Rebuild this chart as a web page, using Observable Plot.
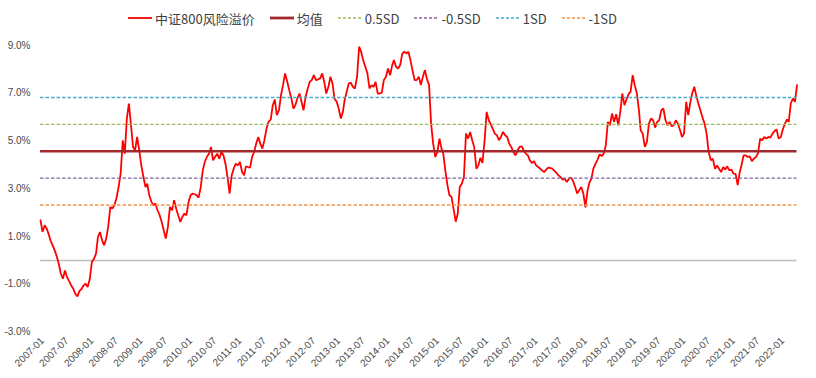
<!DOCTYPE html>
<html><head><meta charset="utf-8">
<script src="https://cdn.jsdelivr.net/npm/d3@7"></script>
<script src="https://cdn.jsdelivr.net/npm/@observablehq/plot@0.6"></script>
<style>
body{margin:0;background:#fff;}
#legend{height:30px;box-sizing:border-box;padding-top:6px;display:flex;align-items:center;padding-left:128px;gap:15px;font-size:13px;color:#404040;font-family:"Noto Sans CJK SC","Noto Sans",sans-serif;line-height:1;}
.item{display:flex;align-items:center;gap:3px;}
.item svg{display:block;}
</style></head><body>
<div id="legend"></div>
<div id="chart"></div>
<script>
// Semi-monthly readings (1st and 16th of each month), in %
const y2007 = [1.68, 1.19, 1.47, 1.33, 1.12, 0.84, 0.63, 0.42, 0.17, -0.14, -0.56, -0.77, -0.42, -0.70, -0.87, -1.05, -1.19, -1.40, -1.51, -1.29, -1.19, -1.05, -0.98, -1.12];
const y2008 = [-0.77, -0.07, 0.07, 0.28, 0.98, 1.19, 0.84, 0.63, 0.91, 1.40, 2.24, 2.17, 2.31, 2.59, 3.07, 3.63, 5.03, 4.47, 5.94, 6.57, 5.66, 4.75, 4.61, 5.17];
const y2009 = [4.61, 3.98, 3.49, 3.07, 3.21, 2.73, 2.45, 2.31, 2.38, 2.10, 1.89, 1.61, 1.26, 0.91, 1.40, 2.24, 2.10, 2.52, 2.17, 1.89, 1.61, 1.82, 1.96, 1.89];
const y2010 = [2.45, 2.73, 2.80, 2.77, 2.73, 2.63, 3.07, 3.77, 4.12, 4.33, 4.47, 4.75, 4.19, 4.33, 4.47, 4.26, 4.54, 4.40, 4.05, 3.49, 2.80, 3.56, 3.84, 4.05];
const y2011 = [3.98, 4.12, 3.70, 3.56, 3.94, 3.91, 3.89, 4.33, 4.54, 4.89, 5.17, 4.89, 4.68, 5.03, 5.52, 5.80, 5.90, 6.50, 6.74, 6.08, 6.29, 6.92, 7.34, 7.83];
const y2012 = [7.48, 7.13, 6.78, 6.36, 6.50, 6.78, 6.99, 6.64, 6.29, 6.85, 7.20, 7.48, 7.55, 7.76, 7.55, 7.58, 7.62, 7.83, 7.48, 6.99, 7.27, 7.69, 7.41, 6.78];
const y2013 = [6.64, 6.36, 5.94, 6.22, 6.71, 7.06, 7.41, 7.44, 7.27, 7.20, 7.69, 8.95, 8.74, 8.39, 8.11, 7.85, 7.20, 7.34, 7.27, 7.48, 6.99, 6.99, 7.02, 7.55];
const y2014 = [7.69, 8.04, 7.76, 8.18, 8.39, 8.11, 8.04, 8.18, 8.64, 8.74, 8.67, 8.74, 8.39, 7.97, 7.55, 7.55, 7.69, 7.34, 7.69, 7.97, 7.58, 7.34, 5.73, 4.89];
const y2015 = [4.33, 4.54, 5.10, 4.68, 4.47, 3.77, 3.14, 2.73, 2.66, 2.17, 1.62, 1.95, 3.07, 3.21, 3.49, 5.31, 5.10, 5.38, 5.03, 4.75, 3.84, 3.98, 4.30, 4.08];
const y2016 = [5.03, 6.22, 5.87, 5.70, 5.52, 5.31, 5.24, 5.03, 5.17, 5.38, 5.24, 5.17, 4.89, 4.75, 4.54, 4.40, 4.61, 4.75, 4.78, 4.61, 4.47, 4.40, 4.19, 4.08];
const y2017 = [4.16, 3.98, 3.91, 3.84, 3.77, 3.70, 3.80, 3.89, 3.87, 3.84, 3.75, 3.66, 3.56, 3.49, 3.38, 3.42, 3.28, 3.42, 3.47, 3.33, 3.07, 2.80, 2.94, 3.07];
const y2018 = [2.80, 2.22, 2.94, 3.28, 3.42, 3.84, 4.05, 4.22, 4.44, 4.37, 4.47, 4.82, 5.80, 5.66, 6.15, 5.80, 6.12, 5.66, 6.22, 6.99, 6.50, 6.74, 6.96, 7.06];
const y2019 = [7.76, 7.34, 6.99, 6.29, 5.45, 5.31, 4.75, 4.96, 5.73, 5.94, 5.87, 5.56, 5.80, 5.87, 6.29, 6.36, 5.87, 5.66, 5.80, 5.62, 5.66, 5.87, 5.73, 5.48];
const y2020 = [5.17, 5.31, 6.64, 6.08, 6.57, 6.99, 7.27, 6.88, 6.57, 6.29, 5.98, 5.73, 5.31, 4.54, 4.19, 4.26, 3.84, 3.98, 3.84, 3.70, 3.91, 3.80, 3.94, 3.77];
const y2021 = [3.80, 3.63, 3.61, 3.15, 3.63, 3.98, 4.40, 4.40, 4.33, 4.36, 4.16, 4.26, 4.33, 4.47, 5.10, 5.03, 5.17, 5.10, 5.17, 5.14, 5.31, 5.42, 5.48, 5.10];
const y2022 = [5.17, 5.48, 5.73, 5.90, 5.80, 6.57, 6.78, 6.64, 7.34];

const seriesByYear = [[2007,y2007],[2008,y2008],[2009,y2009],[2010,y2010],[2011,y2011],[2012,y2012],[2013,y2013],[2014,y2014],[2015,y2015],[2016,y2016],[2017,y2017],[2018,y2018],[2019,y2019],[2020,y2020],[2021,y2021],[2022,y2022]];

const meanValue = 4.57;   // 均值
const sdValue = 2.25;     // standard deviation
const bandNames = ["0.5SD", "-0.5SD", "1SD", "-1SD"];
const bandMultipliers = [0.5, -0.5, 1, -1];
const bandColors = ["#9BBB59", "#8064A2", "#4BACC6", "#F79646"];

const yTicks = [-3, -1, 1, 3, 5, 7, 9];
const xTicks = ["2007-01","2007-07","2008-01","2008-07","2009-01","2009-07","2010-01","2010-07","2011-01","2011-07","2012-01","2012-07","2013-01","2013-07","2014-01","2014-07","2015-01","2015-07","2016-01","2016-07","2017-01","2017-07","2018-01","2018-07","2019-01","2019-07","2020-01","2020-07","2021-01","2021-07","2022-01"];

const seriesName = "中证800风险溢价";
const meanName = "均值";
const seriesColor = "#FF0000";
const meanColor = "#A3282B";

// Build table
const series = [];
seriesByYear.forEach(([yr, arr]) => arr.forEach((v, i) => {
  series.push({date: new Date(Date.UTC(yr, Math.floor(i / 2), i % 2 ? 16 : 1)), value: v});
}));
const bands = bandNames.map((n, i) => ({name: n, level: meanValue + bandMultipliers[i] * sdValue, color: bandColors[i]}));
const xTickDates = xTicks.map(s => new Date(s + "-01T00:00:00Z"));

// Legend
const legend = document.getElementById("legend");
function addItem(label, color, width, dash) {
  const it = document.createElement("div");
  it.className = "item";
  it.innerHTML = `<svg width="24" height="6"><line x1="0" x2="24" y1="3" y2="3" stroke="${color}" stroke-width="${width}" ${dash ? `stroke-dasharray="${dash}"` : ""}/></svg><span>${label}</span>`;
  legend.appendChild(it);
}
addItem(seriesName, seriesColor, 1.8);
addItem(meanName, meanColor, 2.8);
bands.forEach(b => addItem(b.name, b.color, 1.5, "3,2"));

const chart = Plot.plot({
  width: 816,
  height: 348,
  marginLeft: 40,
  marginRight: 19.5,
  marginTop: 15,
  marginBottom: 46.5,
  style: {fontFamily: "'Liberation Sans', Arial, sans-serif", fontSize: "10px", color: "#4a4a4a", background: "#fff"},
  x: {type: "utc", domain: [new Date(Date.UTC(2007, 0, 1)), new Date(Date.UTC(2022, 4, 1))]},
  y: {domain: [-3, 9]},
  marks: [
    Plot.ruleY([0], {stroke: "#BFBFBF", strokeWidth: 1.5}),
    Plot.axisY({ticks: yTicks, tickFormat: d => d.toFixed(1) + "%", tickSize: 0, tickPadding: 10, label: null}),
    Plot.axisX({ticks: xTickDates, tickFormat: d3.utcFormat("%Y-%m"), tickRotate: -45, tickSize: 0, tickPadding: 7, dx: 2, label: null}),
    Plot.line(series, {x: "date", y: "value", stroke: seriesColor, strokeWidth: 1.8, strokeLinejoin: "miter"}),
    Plot.ruleY([meanValue], {stroke: meanColor, strokeWidth: 2.5}),
    Plot.ruleY(bands, {y: "level", stroke: "color", strokeWidth: 1.4, strokeDasharray: "3.5,2"})
  ]
});
document.getElementById("chart").appendChild(chart);
</script>
</body></html>
